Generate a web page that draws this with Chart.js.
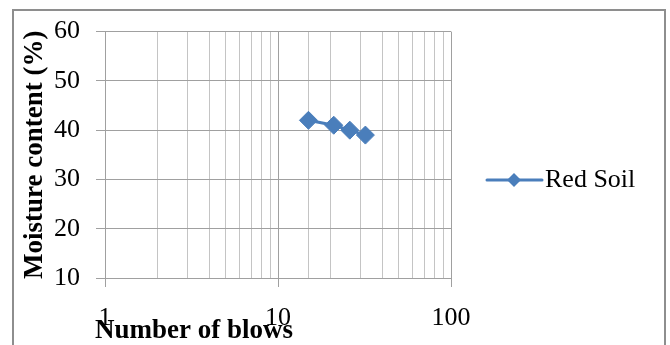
<!DOCTYPE html>
<html>
<head>
<meta charset="utf-8">
<script src="https://cdn.jsdelivr.net/npm/chart.js@4.4.1/dist/chart.umd.min.js"></script>
<style>
  html, body { margin: 0; padding: 0; background: #fff; }
  #wrap { width: 670px; height: 345px; position: relative; }
</style>
</head>
<body>
<div id="wrap"><canvas id="blows" width="670" height="345"></canvas></div>
<script>
// values
const blows = [15, 21, 26, 32];
const moisture = [42, 41, 40, 39];
const seriesName = 'Red Soil';
const majorBlows = [1, 10, 100];
const xTitle = 'Number of blows';
const yTitle = 'Moisture content (%)';

const serif = '"Liberation Serif", "Times New Roman", serif';
const blue = '#4a7ebb';

const frameAndLegend = {
  id: 'frameAndLegend',
  beforeDraw: (chart) => {
    const { ctx } = chart;
    ctx.save();
    ctx.fillStyle = '#fff';
    ctx.fillRect(0, 0, chart.width, chart.height);
    ctx.strokeStyle = '#8e8e8e';
    ctx.lineWidth = 2;
    ctx.strokeRect(13, 10, 652, 400);
    ctx.restore();
  },
  afterDraw: (chart) => {
    const { ctx, chartArea } = chart;
    const ds = chart.data.datasets[0];
    ctx.save();
    // x axis title, sits low and left like the original
    ctx.font = 'bold 27px ' + serif;
    ctx.fillStyle = '#000';
    ctx.textBaseline = 'alphabetic';
    ctx.textAlign = 'left';
    ctx.fillText(xTitle, chartArea.left - 10, chartArea.bottom + 60);

    // legend: line with a diamond, then the series name
    const lx = chartArea.right + 36;
    const ly = 180;
    ctx.strokeStyle = ds.borderColor;
    ctx.lineWidth = 3;
    ctx.lineCap = 'round';
    ctx.beginPath();
    ctx.moveTo(lx, ly);
    ctx.lineTo(lx + 55, ly);
    ctx.stroke();
    ctx.fillStyle = ds.borderColor;
    ctx.beginPath();
    ctx.moveTo(lx + 27, ly - 7);
    ctx.lineTo(lx + 34, ly);
    ctx.lineTo(lx + 27, ly + 7);
    ctx.lineTo(lx + 20, ly);
    ctx.closePath();
    ctx.fill();
    ctx.fillStyle = '#000';
    ctx.font = '26px ' + serif;
    ctx.textBaseline = 'middle';
    ctx.fillText(ds.label, lx + 58, ly);
    ctx.restore();
  }
};

const isMajor = (v) => majorBlows.includes(Math.round(v * 1000) / 1000);

new Chart(document.getElementById('blows'), {
  type: 'line',
  data: {
    datasets: [{
      label: seriesName,
      data: blows.map((b, i) => ({ x: b, y: moisture[i] })),
      borderColor: blue,
      backgroundColor: blue,
      borderWidth: 3,
      pointStyle: 'rectRot',
      pointRadius: 9,
      pointBorderWidth: 1,
      tension: 0
    }]
  },
  options: {
    responsive: false,
    animation: false,
    layout: { padding: { left: 0, top: 28, right: 219, bottom: 0 } },
    plugins: {
      legend: { display: false },
      tooltip: { enabled: false }
    },
    scales: {
      x: {
        type: 'logarithmic',
        min: 1,
        max: 100,
        afterFit: (s) => { s.height = 67; },
        border: { display: false },
        grid: {
          color: (c) => (c.tick && isMajor(c.tick.value) ? '#a0a0a0' : '#c4c4c4'),
          tickColor: (c) => (c.tick && isMajor(c.tick.value) ? '#a0a0a0' : 'rgba(0,0,0,0)'),
          tickLength: 9,
          lineWidth: 1
        },
        ticks: {
          autoSkip: false,
          maxRotation: 0,
          padding: 16,
          color: '#000',
          font: { family: serif, size: 26 },
          callback: (v) => (isMajor(v) ? String(v) : '')
        }
      },
      y: {
        min: 10,
        max: 60,
        afterFit: (s) => { s.width = 105; },
        border: { display: false },
        grid: { color: '#a0a0a0', tickColor: '#a0a0a0', tickLength: 9, lineWidth: 1 },
        ticks: {
          stepSize: 10,
          padding: 16,
          color: '#000',
          font: { family: serif, size: 26 }
        },
        title: {
          display: true,
          text: yTitle,
          color: '#000',
          font: { family: serif, size: 27, weight: 'bold', lineHeight: 1.2 },
          padding: { top: 19, bottom: 0 }
        }
      }
    }
  },
  plugins: [frameAndLegend]
});
</script>
</body>
</html>
